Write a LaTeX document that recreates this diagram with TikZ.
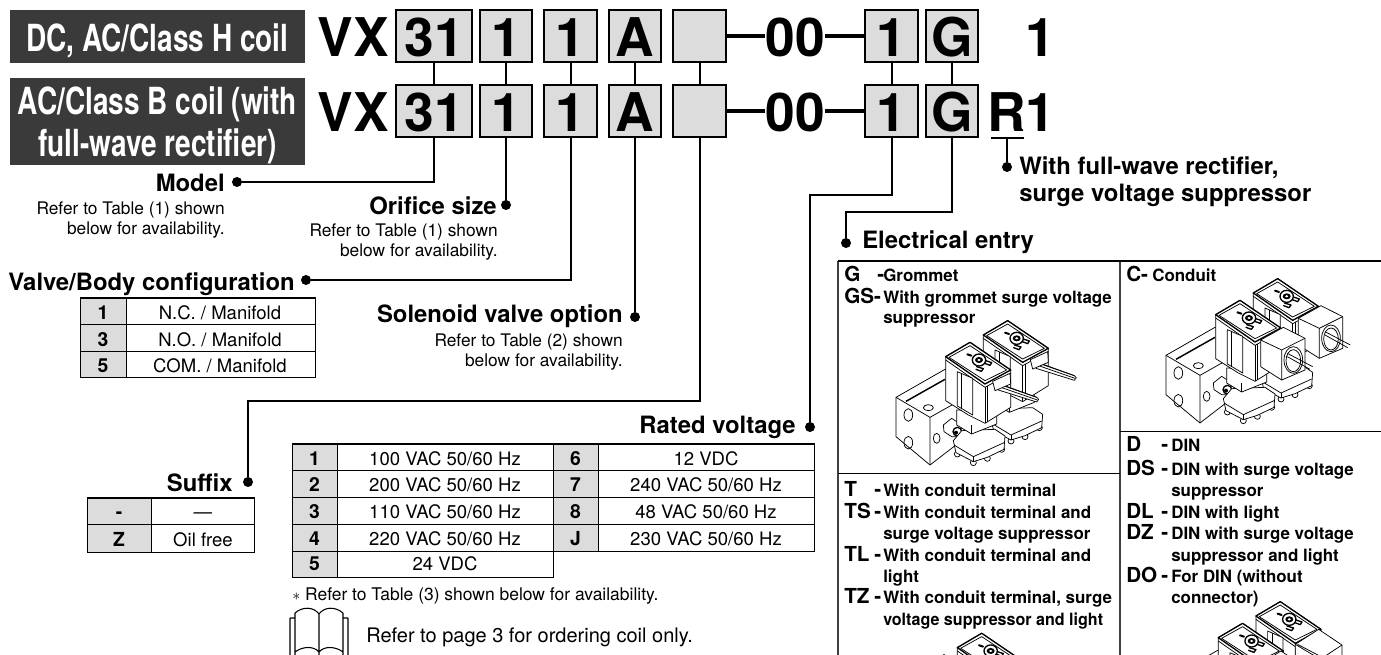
\documentclass[tikz,border=0pt]{standalone}
\usepackage{fontspec}
\setmainfont{TeX Gyre Heros}
\definecolor{boxgray}{HTML}{DCDCDC}
\definecolor{titlebg}{HTML}{3A3A3A}
\newcommand\fsz[1]{\fontsize{#1}{#1}\selectfont}
\newcommand\vnut{%
  \draw[vl,fill=white] (190,345)--(215,325)--(245,345)--(240,380)--(215,380)--(192,365)--cycle;
  \draw[vh,fill=white] (232,365) circle (13);
  \fill (228,368) circle (6);
}
\newcommand\vbase{%
  \foreach \px/\py in {232/432,280/458,322/445,365/418}{\draw[vl,fill=white] (\px,\py) circle (9);}
  \draw[vl,fill=white] (220,392)--(245,362)--(345,358)--(375,378)--(372,418)--(322,442)--(280,455)--(228,428)--cycle;
  \draw[vl] (222,405)--(280,440)--(372,398);
  \draw[vl] (280,440)--(280,455);
  \draw[vl,fill=white] (230,300)--(230,345)--(275,372)--(350,342)--(350,305)--cycle;
  \draw[vl] (275,345)--(275,372);
}
\newcommand\vcoil{%
  \draw[vl,fill=white] (197,140)--(197,272)--(265,315)--(315,340)--(392,292)--(392,180)--(270,97)--cycle;
  \draw[vh,fill=white] (197,140)--(270,97)--(392,180)--(315,222)--cycle;
  \draw[vl] (207,142)--(270,107)--(380,180)--(315,212)--cycle;
  \draw[vl] (197,150)--(315,232)--(392,190);
  \draw[vl,fill=white] (232,185)--(278,205)--(278,315)--(232,288)--cycle;
  \draw[vl] (245,192)--(245,296);
  \draw[vl] (315,232)--(315,340);
  \draw[vl] (323,228)--(323,336);
  % logo
  \draw[vh] (297,150) ellipse (20 and 18);
  \fill (297,150) ellipse (12 and 9);
  \fill[white] (297,150) ellipse (5 and 3.5);
  \draw[line width=1.5pt,line cap=round] (262,133)--(274,137);
  \draw[vh,line cap=round] (317,152)--(335,158)--(330,166)--(314,160);
  \draw[vh,line cap=round] (290,170)--(310,176)--(304,184)--(288,178);
}
\newcommand\vblock{%
  \draw[vl,fill=white] (48,262)--(195,178)--(260,220)--(260,380)--(150,465)--(48,380)--cycle;
  \draw[vl] (48,262)--(150,322)--(150,465) (150,322)--(260,260);
  \draw[line width=1.1pt] (78,274)--(195,208);
  \draw[vl] (145,293) ellipse (15 and 9);
  \draw[vl] (85,315) ellipse (13 and 19) (85,398) ellipse (13 and 19) (170,385) ellipse (10 and 15);
}
\newcommand\cgrom{%
  \draw[vl,fill=white] (355,222)--(470,262)--(476,268)--(470,276)--(355,240)--cycle;
  \draw[vl] (357,230)--(472,270);
  \draw[vl] (360,222)--(470,262);
  \draw[vl,fill=white] (338,214)--(390,190)--(392,222)--(345,242)--cycle;
}
\newcommand\ccond{%
  \draw[vl,fill=white] (332,216)--(400,178)--(465,211)--(465,306)--(395,336)--(332,296)--cycle;
  \draw[vl] (332,216)--(395,246)--(465,211) (395,246)--(395,336);
  \draw[vl,fill=white] (430,276) ellipse (28 and 40);
  \draw[vl] (430,278) ellipse (22 and 33);
  \draw[vl] (412,256)--(488,296) (412,266)--(480,304);
}
\newcommand\cdin{%
  \draw[vl,fill=white] (315,225)--(385,180)--(455,227)--(455,340)--(390,385)--(315,340)--cycle;
  \draw[vl] (315,225)--(390,270)--(455,227) (390,270)--(390,385) (322,225)--(392,262);
}
\newcommand\cterm{%
  \draw[vl,fill=white] (315,225)--(385,180)--(440,220)--(440,320)--(380,350)--(315,340)--cycle;
}
\newcommand\drawvalve[3]{%
  \begin{scope}[shift={(#1,#2)},x=.25pt,y=-.25pt]
    \begin{scope}[shift={(113,-65)}]\vbase\vcoil#3\end{scope}
    \vblock\vnut\vbase\vcoil#3
  \end{scope}}
\begin{document}
\begin{tikzpicture}[x=.75pt,y=-.75pt,
  vl/.style={line width=.55pt,line join=round},
  vh/.style={line width=1pt,line join=round},
  conn/.style={line width=1.5pt,line join=miter},
  dashln/.style={line width=2.3pt},
  dotn/.style={circle,fill=black,draw=none,inner sep=0,minimum size=7.5pt},
  titlebox/.style={fill=titlebg,draw=none,inner sep=0},
  titletx/.style={text=white,inner sep=0,anchor=base,font=\fsz{28}\bfseries},
  bigt/.style={inner sep=0,anchor=base,font=\fsz{40}\bfseries},
  codebox/.style={draw=black,line width=1.5pt,fill=boxgray,inner sep=0,minimum width=39.5pt,minimum height=39.5pt,text height=31.5pt,text depth=0pt,font=\fsz{40}\bfseries},
  lab/.style={inner sep=0,anchor=base east,font=\fsz{17.9}\bfseries},
  labw/.style={inner sep=0,anchor=base west,font=\fsz{17.9}\bfseries},
  note/.style={inner sep=0,anchor=base east,font=\fsz{13}},
  cell/.style={inner sep=0,anchor=base,font=\fsz{13.9}},
  key/.style={inner sep=0,anchor=base,font=\fsz{14.5}\bfseries},
  code/.style={inner sep=0,anchor=base west,font=\fsz{15.5}\bfseries},
  desc/.style={inner sep=0,anchor=base west,font=\fsz{12.7}\bfseries},
  tln/.style={line width=.75pt},
  ttop/.style={line width=1.6pt},
  eln/.style={line width=1pt,draw=black!75}]
\useasboundingbox (0,0) rectangle (1381,655);
\fill[white] (0,0) rectangle (1381,655);

% title plates
\node[titlebox,minimum width=221.25pt,minimum height=39.75pt,anchor=north west] (plateA) at (10,10) {};
\node[titlebox,minimum width=221.25pt,minimum height=65.25pt,anchor=north west] (plateB) at (10,78) {};
\node[titletx] (titleA) at (157.5,52) {\scalebox{.75}[1]{DC, AC/Class H coil}};
\node[titletx] (titleB) at (157.5,115) {\scalebox{.75}[1]{AC/Class B coil (with}};
\node[titletx] (titleC) at (157.5,157) {\scalebox{.75}[1]{full-wave rectifier)}};

% code rows
\node[bigt] (vxA) at (353,57) {VX};
\node[bigt] (vxB) at (353,132) {VX};
\foreach \r/\cy in {a/36,b/111}{
  \node[codebox,minimum width=56.5pt] (\r1) at (434,\cy) {31};
  \node[codebox] (\r2) at (506,\cy) {1};
  \node[codebox] (\r3) at (570.5,\cy) {1};
  \node[codebox] (\r4) at (635,\cy) {A};
  \node[codebox] (\r5) at (699.5,\cy) {};
  \node[codebox] (\r6) at (891.5,\cy) {1};
  \node[codebox] (\r7) at (952,\cy) {G};
}
\node[bigt] (zeroA) at (795,57) {00};
\node[bigt] (zeroB) at (795,132) {00};
\draw[dashln] (a5.east) -- (a5.east -| zeroA.west);
\draw[dashln] (a6.west -| zeroA.east) -- (a6.west);
\draw[dashln] (b5.east) -- (b5.east -| zeroB.west);
\draw[dashln] (b6.west -| zeroB.east) -- (b6.west);
\node[bigt,anchor=base west] (oneA) at (1025.3,57) {1};
\node[bigt,anchor=base west] (rB) at (987.5,132) {R};
\node[bigt,anchor=base west] (oneB) at (1025.3,132) {1};

% linking stems
\foreach \i in {1,...,7}{\draw[conn] (a\i.south) -- (b\i.north);}

% dots
\node[dotn] (dModel) at (237,182) {};
\node[dotn] (dOrif) at (506,205) {};
\node[dotn] (dValve) at (306,280) {};
\node[dotn] (dSol) at (635,317) {};
\node[dotn] (dSuf) at (248,482) {};
\node[dotn] (dRated) at (810,427) {};
\node[dotn] (dElec) at (846,243) {};
\node[dotn] (dRect) at (1007,167) {};
\coordinate (kSuf) at (248,401);
\coordinate (kRated) at (810,195);
\coordinate (kElec) at (846,212);
\coordinate (ulL) at (991,138);
\coordinate (ulR) at (1024,138);
\coordinate (ulM) at (1007,138);

\draw[conn] (b1.south) |- (dModel);
\draw[conn] (b2.south) -- (dOrif);
\draw[conn] (b3.south) |- (dValve);
\draw[conn] (b4.south) -- (dSol);
\draw[conn] (b5.south) |- (kSuf) -- (dSuf);
\draw[conn] (b6.south) |- (kRated) -- (dRated);
\draw[conn] (b7.south) |- (kElec) -- (dElec);
\draw[line width=1.1pt] (ulL) -- (ulR);
\draw[line width=1.1pt] (ulM) -- (dRect);

% labels
\node[lab] (lModel) at (225,192) {Model};
\node[note] (nModelA) at (225,215) {Refer to Table (1) shown};
\node[note] (nModelB) at (225,235) {below for availability.};
\node[lab] (lOrif) at (497,215) {Orifice size};
\node[note] (nOrifA) at (498,237) {Refer to Table (1) shown};
\node[note] (nOrifB) at (498,257) {below for availability.};
\node[lab] (lValve) at (295,291) {Valve/Body configuration};
\node[lab] (lSol) at (623,323) {Solenoid valve option};
\node[note] (nSolA) at (623,347) {Refer to Table (2) shown};
\node[note] (nSolB) at (623,367) {below for availability.};
\node[lab] (lSuf) at (233,492) {Suffix};
\node[lab] (lRated) at (796,434) {Rated voltage};
\node[labw] (lRectA) at (1019,175) {With full-wave rectifier,};
\node[labw] (lRectB) at (1019,202) {surge voltage suppressor};
\node[labw] (lElec) at (862,249) {Electrical entry};

% valve/body table
\fill[boxgray] (80,298) rectangle (126,378);
\draw[tln] (80,298) rectangle (315,378) (80,325) -- (315,325) (80,352) -- (315,352) (126,298) -- (126,378);
\draw[ttop] (80,298) -- (315,298);
\foreach \n/\k/\t/\y in {1/1/{N.C. / Manifold}/320,2/3/{N.O. / Manifold}/347,3/5/{COM. / Manifold}/373}{
  \node[key] (vk\n) at (103,\y) {\k};
  \node[cell] (vt\n) at (220,\y) {\t};
}

% suffix table
\fill[boxgray] (87,498) rectangle (151,552);
\draw[tln] (87,498) rectangle (254,552) (87,524) -- (254,524) (151,498) -- (151,552);
\draw[ttop] (87,498) -- (254,498);
\node[key] (sk1) at (119,518) {-};
\node[cell] (st1) at (203,518) {—};
\node[key] (sk2) at (119,546) {Z};
\node[cell] (st2) at (203,546) {Oil free};

% rated table
\fill[boxgray] (292,444) rectangle (337,577) (553,444) rectangle (598,551);
\draw[tln] (292,444) -- (814,444) -- (814,551) -- (553,551);
\draw[tln] (292,444) -- (292,577) -- (553,577) -- (553,444);
\draw[tln] (292,471) -- (814,471) (292,498) -- (814,498) (292,524) -- (814,524) (292,551) -- (553,551);
\draw[tln] (337,444) -- (337,577) (598,444) -- (598,551);
\draw[ttop] (292,444) -- (814,444);
\foreach \n/\k/\t/\y in {1/1/{100 VAC 50/60 Hz}/465,2/2/{200 VAC 50/60 Hz}/492,3/3/{110 VAC 50/60 Hz}/518,4/4/{220 VAC 50/60 Hz}/545,5/5/{24 VDC}/570}{
  \node[key] (rk\n) at (314.5,\y) {\k};
  \node[cell] (rt\n) at (445,\y) {\t};
}
\foreach \n/\k/\t/\y in {6/6/{12 VDC}/465,7/7/{240 VAC 50/60 Hz}/492,8/8/{48 VAC 50/60 Hz}/518,9/J/{230 VAC 50/60 Hz}/545}{
  \node[key] (rk\n) at (575.5,\y) {\k};
  \node[cell] (rt\n) at (706,\y) {\t};
}
\node[inner sep=0,anchor=base west,font=\fsz{13.1}] (nStar) at (292,600) {$\ast$ Refer to Table (3) shown below for availability.};
\node[inner sep=0,anchor=base west,font=\fsz{15}] (nCoil) at (366,642) {Refer to page 3 for ordering coil only.};

% book
\draw[line width=.8pt,line join=round] (290,618)--(290,655) (348,618)--(348,655)
  (295,618)--(290,618) (343,618)--(348,618)
  (295,655)--(295,613) .. controls (303,606) and (314,607) .. (319,614) .. controls (324,607) and (335,606) .. (343,613) -- (343,655)
  (319,614)--(319,655)
  (295,652) .. controls (303,646) and (314,646) .. (319,652) .. controls (324,646) and (335,646) .. (343,652);

% entry table illustrations
\begin{scope}
\clip (0,0) rectangle (1381,655);
\drawvalve{880}{310}{\cgrom}
\drawvalve{1150}{268}{\ccond}
\drawvalve{854}{622.6}{\cterm}
\drawvalve{1152.6}{591}{\cdin}
\end{scope}

% entry table frame
\draw[eln] (838,261) -- (838,655) (1120,261) -- (1120,655);
\draw[ttop] (838,261) -- (1381,261);
\draw[tln] (838,474) -- (1120,474) (1120,432) -- (1381,432);

% entry texts
\node[code] (cG) at (844,282) {G};
\node[code] (dG) at (877,282) {-};
\node[desc] (tG) at (883,282) {Grommet};
\node[code] (cGS) at (844,304) {GS-};
\node[desc] (tGS) at (883,304) {With grommet surge voltage};
\node[desc] (tGSb) at (883,324) {suppressor};
\node[code] (cC) at (1126,282) {C-};
\node[desc] (tC) at (1152,282) {Conduit};
\node[code] (cT) at (844,497) {T};
\node[code] (dT) at (874,497) {-};
\node[desc] (tT) at (883,497) {With conduit terminal};
\node[code] (cTS) at (844,518) {TS};
\node[code] (dTS) at (874,518) {-};
\node[desc] (tTS) at (883,518) {With conduit terminal and};
\node[desc] (tTSb) at (883,539) {surge voltage suppressor};
\node[code] (cTL) at (844,561) {TL};
\node[code] (dTL) at (874,561) {-};
\node[desc] (tTL) at (883,561) {With conduit terminal and};
\node[desc] (tTLb) at (883,582) {light};
\node[code] (cTZ) at (844,603) {TZ};
\node[code] (dTZ) at (874,603) {-};
\node[desc] (tTZ) at (883,603) {With conduit terminal, surge};
\node[desc] (tTZb) at (883,625) {\scalebox{.95}[1]{voltage suppressor and light}};
\node[code] (cD) at (1126,452) {D};
\node[code] (dD) at (1161,452) {-};
\node[desc] (tD) at (1171,452) {DIN};
\node[code] (cDS) at (1126,475) {DS};
\node[code] (dDS) at (1161,475) {-};
\node[desc] (tDS) at (1171,475) {DIN with surge voltage};
\node[desc] (tDSb) at (1171,497) {suppressor};
\node[code] (cDL) at (1126,518) {DL};
\node[code] (dDL) at (1161,518) {-};
\node[desc] (tDL) at (1171,518) {DIN with light};
\node[code] (cDZ) at (1126,539) {DZ};
\node[code] (dDZ) at (1161,539) {-};
\node[desc] (tDZ) at (1171,539) {DIN with surge voltage};
\node[desc] (tDZb) at (1171,561) {suppressor and light};
\node[code] (cDO) at (1126,582) {DO};
\node[code] (dDO) at (1161,582) {-};
\node[desc] (tDO) at (1171,582) {For DIN (without};
\node[desc] (tDOb) at (1171,603) {connector)};
\end{tikzpicture}
\end{document}
